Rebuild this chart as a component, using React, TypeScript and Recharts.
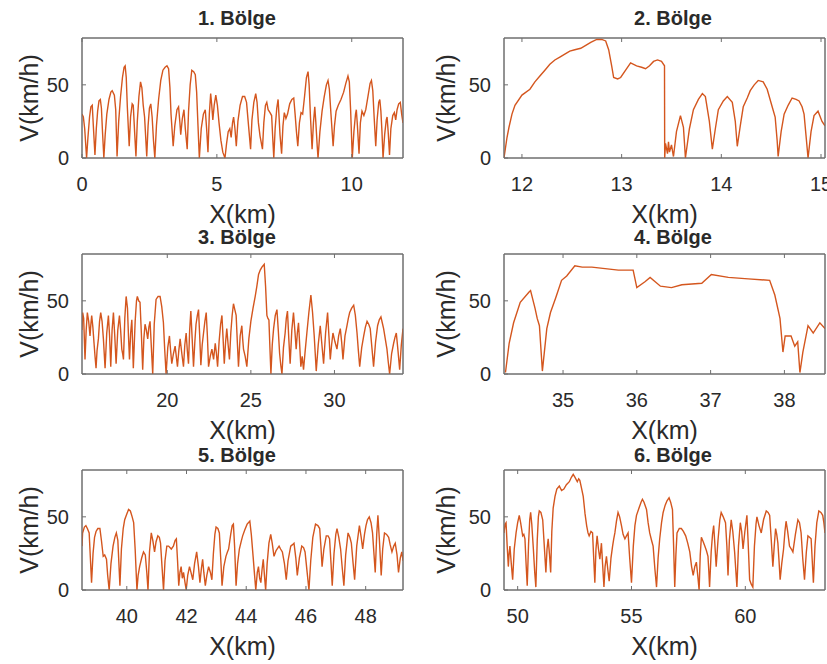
import React from 'react';
import { LineChart, Line, XAxis, YAxis, ReferenceArea } from 'recharts';

// speed profiles per region: [X (km), V (km/h)]
const bolge1: number[][] = [
    [0, 30], [0.05, 28], [0.1, 20], [0.17, 0], [0.22, 14], [0.28, 28], [0.33, 35], [0.38, 36], [0.42, 22], [0.48, 2],
    [0.53, 20], [0.58, 32], [0.63, 39], [0.68, 40], [0.72, 34], [0.76, 18], [0.81, 0], [0.86, 16], [0.92, 30], [1.0, 40],
    [1.07, 45], [1.12, 46], [1.2, 43], [1.25, 33], [1.3, 1], [1.36, 25], [1.43, 42], [1.5, 55], [1.56, 62], [1.6, 63],
    [1.64, 55], [1.68, 35], [1.75, 8], [1.8, 28], [1.86, 37], [1.9, 36], [1.95, 18], [2.0, 1], [2.05, 25], [2.11, 42],
    [2.17, 52], [2.22, 48], [2.27, 36], [2.32, 28], [2.4, 1], [2.45, 22], [2.5, 34], [2.55, 37], [2.6, 28], [2.65, 12],
    [2.7, 0], [2.76, 22], [2.84, 40], [2.92, 53], [3.0, 60], [3.08, 62], [3.15, 63], [3.21, 61], [3.26, 48], [3.3, 30],
    [3.38, 8], [3.44, 22], [3.52, 33], [3.58, 35], [3.63, 24], [3.66, 16], [3.72, 27], [3.78, 33], [3.83, 20], [3.9, 6],
    [3.95, 32], [4.01, 50], [4.07, 60], [4.14, 59], [4.2, 57], [4.25, 45], [4.3, 22], [4.35, 0], [4.42, 20], [4.5, 30],
    [4.57, 33], [4.62, 20], [4.67, 4], [4.72, 30], [4.77, 44], [4.81, 36], [4.85, 26], [4.9, 36], [4.96, 43], [5.02, 36],
    [5.08, 24], [5.15, 12], [5.22, 4], [5.3, 0], [5.36, 10], [5.42, 18], [5.48, 20], [5.53, 14], [5.58, 24], [5.62, 28],
    [5.67, 20], [5.72, 8], [5.78, 25], [5.86, 36], [5.95, 42], [6.03, 42], [6.1, 38], [6.16, 25], [6.25, 6], [6.3, 26],
    [6.37, 38], [6.44, 44], [6.49, 38], [6.54, 24], [6.6, 15], [6.69, 6], [6.74, 24], [6.8, 36], [6.85, 38], [6.9, 33],
    [6.97, 31], [7.03, 29], [7.07, 14], [7.11, 0], [7.16, 20], [7.22, 34], [7.27, 40], [7.3, 30], [7.34, 16], [7.4, 3],
    [7.45, 22], [7.5, 31], [7.56, 27], [7.62, 30], [7.7, 37], [7.78, 40], [7.85, 41], [7.9, 30], [7.95, 18], [8.0, 8],
    [8.06, 24], [8.12, 31], [8.18, 30], [8.25, 42], [8.32, 55], [8.38, 59], [8.42, 50], [8.47, 28], [8.53, 6], [8.58, 24],
    [8.63, 35], [8.67, 24], [8.72, 8], [8.75, 0], [8.82, 18], [8.9, 32], [8.98, 42], [9.06, 50], [9.12, 53], [9.17, 47],
    [9.23, 30], [9.31, 8], [9.36, 22], [9.42, 32], [9.5, 36], [9.6, 40], [9.7, 45], [9.78, 51], [9.86, 56], [9.91, 52],
    [9.96, 32], [10.02, 0], [10.08, 18], [10.14, 30], [10.17, 33], [10.21, 22], [10.27, 3], [10.32, 24], [10.38, 32], [10.45, 29],
    [10.52, 33], [10.6, 42], [10.68, 51], [10.73, 53], [10.78, 46], [10.83, 28], [10.89, 8], [10.94, 26], [11.0, 38], [11.04, 40],
    [11.08, 32], [11.12, 18], [11.16, 0], [11.22, 16], [11.28, 26], [11.31, 28], [11.35, 18], [11.4, 2], [11.45, 20], [11.52, 29],
    [11.58, 31], [11.63, 26], [11.68, 33], [11.74, 37], [11.8, 38], [11.85, 30], [11.9, 24],
];

const bolge2: number[][] = [
    [11.82, 0], [11.85, 14], [11.87, 21], [11.9, 30], [11.93, 36], [12.0, 43], [12.08, 47], [12.13, 52], [12.18, 56], [12.23, 60],
    [12.28, 64], [12.33, 67], [12.38, 69], [12.43, 71], [12.48, 73], [12.53, 74], [12.59, 75], [12.64, 77], [12.69, 79], [12.75, 81],
    [12.8, 81], [12.84, 80], [12.87, 74], [12.9, 63], [12.92, 55], [12.96, 54], [12.99, 55], [13.04, 60], [13.09, 65], [13.15, 63],
    [13.2, 62], [13.24, 61], [13.28, 63], [13.32, 66], [13.36, 67], [13.4, 66], [13.43, 63], [13.432, 0], [13.44, 10], [13.46, 3],
    [13.47, 11], [13.48, 4], [13.5, 9], [13.52, 1], [13.55, 18], [13.59, 29], [13.62, 21], [13.64, 0], [13.68, 20], [13.72, 33],
    [13.77, 40], [13.81, 44], [13.84, 42], [13.88, 25], [13.91, 6], [13.94, 20], [13.97, 33], [14.02, 39], [14.06, 42], [14.11, 38],
    [14.14, 25], [14.16, 8], [14.19, 22], [14.22, 35], [14.26, 41], [14.29, 46], [14.33, 50], [14.37, 53], [14.42, 52], [14.46, 47],
    [14.51, 35], [14.54, 28], [14.56, 12], [14.57, 1], [14.6, 18], [14.63, 30], [14.67, 36], [14.71, 41], [14.75, 40], [14.78, 39],
    [14.81, 35], [14.83, 30], [14.85, 15], [14.87, 0], [14.9, 18], [14.93, 29], [14.97, 32], [15.01, 25], [15.04, 22],
];

const bolge3: number[][] = [
    [14.9, 30], [14.94, 42], [15.0, 38], [15.08, 10], [15.15, 30], [15.22, 42], [15.3, 36], [15.38, 26], [15.43, 34], [15.48, 40],
    [15.55, 32], [15.62, 21], [15.68, 12], [15.74, 4], [15.8, 16], [15.88, 24], [15.95, 36], [16.02, 42], [16.1, 36], [16.18, 24],
    [16.23, 14], [16.28, 4], [16.38, 28], [16.48, 40], [16.55, 26], [16.62, 5], [16.7, 30], [16.78, 42], [16.86, 26], [16.94, 7],
    [17.04, 30], [17.14, 40], [17.21, 30], [17.28, 17], [17.33, 14], [17.38, 10], [17.46, 38], [17.54, 53], [17.62, 45], [17.68, 26],
    [17.74, 10], [17.81, 28], [17.88, 37], [17.93, 20], [17.97, 4], [18.08, 36], [18.16, 50], [18.21, 53], [18.29, 50], [18.37, 49],
    [18.45, 28], [18.53, 3], [18.6, 24], [18.67, 34], [18.75, 30], [18.83, 24], [18.9, 32], [18.97, 36], [19.05, 18], [19.13, 0],
    [19.22, 34], [19.33, 51], [19.45, 53], [19.57, 53], [19.67, 46], [19.77, 35], [19.85, 16], [19.93, 0], [20.03, 18], [20.13, 26],
    [20.2, 16], [20.27, 7], [20.37, 14], [20.47, 19], [20.54, 12], [20.61, 5], [20.69, 16], [20.77, 24], [20.87, 14], [20.97, 5],
    [21.05, 20], [21.13, 28], [21.2, 16], [21.27, 7], [21.34, 30], [21.41, 43], [21.49, 24], [21.57, 5], [21.65, 22], [21.72, 34],
    [21.8, 40], [21.87, 44], [21.94, 26], [22.01, 6], [22.09, 20], [22.17, 28], [22.25, 36], [22.33, 42], [22.4, 26], [22.47, 5],
    [22.57, 12], [22.67, 17], [22.77, 10], [22.87, 21], [22.94, 14], [23.01, 5], [23.1, 22], [23.19, 34], [23.27, 40], [23.34, 24],
    [23.41, 7], [23.49, 22], [23.56, 31], [23.64, 20], [23.72, 10], [23.8, 28], [23.88, 40], [23.96, 48], [24.04, 44], [24.12, 40],
    [24.19, 22], [24.26, 5], [24.36, 26], [24.46, 33], [24.51, 24], [24.56, 17], [24.66, 12], [24.76, 5], [24.88, 24], [25.0, 36],
    [25.13, 45], [25.26, 53], [25.36, 60], [25.46, 68], [25.56, 71], [25.66, 73], [25.73, 74], [25.8, 75], [25.88, 60], [25.96, 40],
    [26.02, 38], [26.08, 37], [26.14, 18], [26.2, 0], [26.28, 20], [26.36, 31], [26.46, 40], [26.56, 44], [26.64, 30], [26.72, 14],
    [26.79, 6], [26.86, 0], [26.95, 18], [27.05, 28], [27.12, 38], [27.19, 43], [27.27, 24], [27.35, 7], [27.45, 30], [27.55, 42],
    [27.63, 30], [27.71, 17], [27.78, 28], [27.85, 35], [27.92, 20], [27.99, 5], [28.07, 12], [28.15, 3], [28.25, 16], [28.35, 28],
    [28.47, 42], [28.59, 54], [28.69, 42], [28.79, 26], [28.85, 14], [28.91, 2], [29.03, 20], [29.15, 33], [29.25, 20], [29.35, 7],
    [29.47, 28], [29.59, 42], [29.67, 26], [29.75, 10], [29.83, 20], [29.91, 28], [30.03, 22], [30.15, 17], [30.25, 26], [30.35, 31],
    [30.43, 22], [30.51, 10], [30.63, 26], [30.75, 33], [30.83, 38], [30.91, 42], [31.03, 45], [31.15, 47], [31.25, 40], [31.35, 28],
    [31.43, 16], [31.51, 5], [31.63, 18], [31.75, 26], [31.85, 32], [31.95, 36], [32.05, 34], [32.14, 31], [32.24, 18], [32.34, 5],
    [32.46, 22], [32.58, 33], [32.68, 37], [32.78, 39], [32.86, 35], [32.94, 31], [33.04, 24], [33.14, 17], [33.22, 8], [33.3, 0],
    [33.42, 14], [33.54, 21], [33.62, 25], [33.7, 28], [33.8, 16], [33.9, 3], [34.0, 20], [34.1, 31],
];

const bolge4: number[][] = [
    [34.22, 1], [34.27, 21], [34.33, 35], [34.42, 49], [34.54, 56], [34.56, 57], [34.62, 45], [34.65, 38], [34.68, 33], [34.72, 2],
    [34.78, 31], [34.83, 42], [34.9, 52], [34.98, 64], [35.05, 67], [35.16, 74], [35.26, 73], [35.39, 73], [35.57, 72], [35.75, 71],
    [35.95, 71], [36.0, 59], [36.11, 63], [36.18, 66], [36.32, 60], [36.47, 59], [36.61, 61], [36.88, 62], [37.01, 68], [37.24, 66],
    [37.51, 65], [37.8, 64], [37.87, 54], [37.94, 38], [37.98, 15], [38.01, 26], [38.09, 26], [38.14, 19], [38.18, 22], [38.21, 1],
    [38.25, 15], [38.32, 33], [38.39, 28], [38.48, 35], [38.55, 31],
];

const bolge5: number[][] = [
    [38.5, 30], [38.52, 39], [38.58, 43], [38.63, 44], [38.68, 42], [38.74, 39], [38.78, 22], [38.82, 5], [38.87, 25], [38.92, 36],
    [38.97, 40], [39.03, 42], [39.1, 42], [39.15, 34], [39.21, 23], [39.26, 24], [39.32, 21], [39.36, 10], [39.41, 0], [39.47, 18],
    [39.54, 30], [39.6, 36], [39.65, 39], [39.7, 34], [39.77, 3], [39.82, 28], [39.88, 42], [39.93, 48], [40.0, 52], [40.06, 55],
    [40.12, 54], [40.18, 50], [40.23, 46], [40.28, 28], [40.34, 0], [40.38, 10], [40.43, 16], [40.5, 22], [40.56, 26], [40.62, 24],
    [40.67, 12], [40.71, 0], [40.76, 26], [40.82, 39], [40.87, 34], [40.93, 26], [40.98, 33], [41.04, 37], [41.09, 36], [41.13, 32],
    [41.18, 16], [41.23, 0], [41.28, 20], [41.34, 30], [41.4, 30], [41.49, 28], [41.56, 30], [41.62, 34], [41.66, 35], [41.7, 20],
    [41.74, 3], [41.78, 12], [41.82, 16], [41.86, 8], [41.9, 12], [41.95, 5], [41.99, 0], [42.04, 10], [42.1, 16], [42.15, 12],
    [42.21, 7], [42.27, 18], [42.34, 26], [42.4, 16], [42.45, 5], [42.5, 15], [42.54, 21], [42.58, 12], [42.63, 3], [42.68, 10],
    [42.74, 16], [42.8, 12], [42.85, 7], [42.9, 25], [42.95, 38], [42.99, 43], [43.05, 42], [43.1, 39], [43.15, 20], [43.19, 3],
    [43.25, 16], [43.32, 23], [43.37, 26], [43.41, 28], [43.48, 38], [43.53, 44], [43.57, 45], [43.61, 30], [43.66, 3], [43.71, 18],
    [43.77, 28], [43.83, 33], [43.88, 37], [43.95, 41], [44.03, 45], [44.12, 47], [44.17, 38], [44.23, 23], [44.28, 10], [44.32, 0],
    [44.37, 12], [44.41, 16], [44.45, 8], [44.49, 5], [44.53, 14], [44.57, 21], [44.61, 10], [44.65, 0], [44.7, 18], [44.76, 32],
    [44.82, 38], [44.87, 32], [44.93, 23], [45.0, 27], [45.1, 30], [45.15, 28], [45.21, 26], [45.28, 18], [45.34, 7], [45.4, 20],
    [45.49, 30], [45.55, 31], [45.6, 32], [45.66, 22], [45.71, 10], [45.78, 22], [45.86, 30], [45.92, 29], [45.97, 26], [46.04, 12],
    [46.1, 0], [46.16, 20], [46.23, 36], [46.32, 45], [46.4, 44], [46.46, 42], [46.5, 30], [46.54, 16], [46.6, 28], [46.68, 37],
    [46.74, 37], [46.79, 35], [46.84, 18], [46.88, 3], [46.94, 25], [47.0, 38], [47.04, 42], [47.1, 36], [47.16, 28], [47.22, 14],
    [47.27, 3], [47.33, 24], [47.41, 39], [47.47, 36], [47.52, 32], [47.58, 18], [47.63, 7], [47.7, 30], [47.79, 44], [47.85, 36],
    [47.9, 28], [47.96, 38], [48.01, 44], [48.06, 48], [48.12, 50], [48.18, 46], [48.23, 39], [48.28, 24], [48.32, 12], [48.37, 38],
    [48.41, 51], [48.46, 34], [48.52, 10], [48.57, 28], [48.63, 39], [48.7, 38], [48.77, 36], [48.82, 31], [48.88, 26], [48.94, 30],
    [48.99, 32], [49.05, 24], [49.1, 12], [49.16, 22], [49.21, 26], [49.25, 20],
];

const bolge6: number[][] = [
    [49.4, 39], [49.45, 45], [49.49, 46], [49.54, 30], [49.59, 16], [49.62, 24], [49.66, 30], [49.72, 18], [49.78, 7], [49.85, 28],
    [49.93, 39], [50.0, 46], [50.07, 51], [50.13, 46], [50.22, 37], [50.27, 38], [50.32, 35], [50.37, 18], [50.42, 3], [50.48, 32],
    [50.53, 48], [50.57, 53], [50.62, 45], [50.69, 28], [50.75, 12], [50.8, 2], [50.86, 34], [50.91, 50], [50.95, 54], [51.02, 53],
    [51.1, 48], [51.17, 30], [51.24, 12], [51.29, 28], [51.34, 35], [51.4, 24], [51.45, 12], [51.5, 40], [51.56, 56], [51.64, 64],
    [51.72, 69], [51.83, 71], [51.93, 68], [52.03, 69], [52.14, 72], [52.27, 74], [52.36, 77], [52.44, 79], [52.52, 77], [52.62, 74],
    [52.68, 76], [52.73, 75], [52.8, 70], [52.88, 64], [52.96, 52], [53.03, 44], [53.09, 39], [53.14, 37], [53.22, 40], [53.29, 39],
    [53.34, 22], [53.39, 5], [53.44, 28], [53.49, 37], [53.55, 28], [53.61, 21], [53.68, 32], [53.73, 18], [53.79, 2], [53.84, 16],
    [53.9, 23], [53.96, 14], [54.02, 6], [54.1, 22], [54.17, 30], [54.22, 35], [54.27, 39], [54.34, 47], [54.41, 53], [54.48, 50],
    [54.56, 44], [54.63, 38], [54.71, 35], [54.78, 37], [54.85, 39], [54.92, 22], [55.0, 5], [55.08, 30], [55.15, 44], [55.22, 51],
    [55.33, 56], [55.42, 60], [55.48, 62], [55.55, 60], [55.66, 55], [55.73, 46], [55.8, 39], [55.88, 34], [55.95, 30], [56.03, 14],
    [56.1, 2], [56.17, 22], [56.24, 35], [56.32, 46], [56.39, 53], [56.48, 58], [56.56, 61], [56.65, 63], [56.72, 60], [56.8, 55],
    [56.85, 30], [56.9, 2], [56.95, 24], [57.0, 39], [57.1, 42], [57.19, 42], [57.28, 40], [57.38, 37], [57.47, 32], [57.56, 26],
    [57.64, 16], [57.71, 10], [57.78, 16], [57.85, 19], [57.91, 10], [57.97, 0], [58.02, 24], [58.07, 36], [58.15, 33], [58.22, 30],
    [58.29, 27], [58.36, 23], [58.4, 12], [58.43, 2], [58.5, 26], [58.56, 38], [58.61, 44], [58.66, 32], [58.72, 16], [58.8, 34],
    [58.88, 48], [58.94, 53], [59.03, 50], [59.13, 46], [59.19, 30], [59.24, 10], [59.3, 34], [59.38, 48], [59.45, 40], [59.53, 26],
    [59.58, 14], [59.63, 2], [59.7, 30], [59.78, 46], [59.84, 40], [59.9, 28], [59.98, 40], [60.07, 51], [60.12, 34], [60.19, 7],
    [60.26, 4], [60.33, 2], [60.4, 30], [60.47, 45], [60.51, 50], [60.6, 44], [60.7, 39], [60.8, 48], [60.92, 54], [61.0, 53],
    [61.07, 51], [61.14, 34], [61.21, 16], [61.27, 30], [61.33, 42], [61.38, 38], [61.43, 32], [61.48, 20], [61.53, 7], [61.6, 18],
    [61.68, 28], [61.74, 40], [61.79, 47], [61.86, 40], [61.94, 30], [62.02, 28], [62.09, 26], [62.2, 38], [62.31, 48], [62.38, 46],
    [62.45, 39], [62.52, 22], [62.6, 7], [62.68, 26], [62.75, 37], [62.82, 36], [62.89, 35], [62.94, 20], [62.99, 5], [63.06, 30],
    [63.14, 46], [63.23, 54], [63.32, 53], [63.4, 51], [63.45, 46], [63.5, 39],
];

const titles = ['1. Bölge', '2. Bölge', '3. Bölge', '4. Bölge', '5. Bölge', '6. Bölge'];
const xDomains = [[0, 11.9], [11.82, 15.04], [14.9, 34.1], [34.2, 38.55], [38.5, 49.25], [49.4, 63.5]];
const xTicks = [[0, 5, 10], [12, 13, 14, 15], [20, 25, 30], [35, 36, 37, 38], [40, 42, 44, 46, 48], [50, 55, 60]];
const yDomain = [0, 82];
const yTicks = [0, 50];
const series = [bolge1, bolge2, bolge3, bolge4, bolge5, bolge6];

const FONT = '"Liberation Sans", Arial, sans-serif';
const AXIS = '#6e6e6e';
const TEXT = '#2a2a2a';
const LINE = '#D4561E';

const COL_X = [0, 414];
const ROW_Y = [0, 216, 432];
const TITLE_TOP = [8, 11, 13];
const PLOT_LEFT = [82, 90];
const PLOT_RIGHT = [403, 411];
const TITLE_CX = [237, 259];
const CHART_W = 413;
const CHART_H = 232;

function Panel({ idx }: { idx: number }) {
    const col = idx % 2;
    const row = Math.floor(idx / 2);
    const data = series[idx].map(([x, v]) => ({ x, v }));
    const tickStyle = { fill: TEXT, fontSize: 20, fontFamily: FONT };
    const [x0, x1] = xDomains[idx];

    return (
        <div style={{ position: 'absolute', left: COL_X[col], top: ROW_Y[row], width: CHART_W, height: CHART_H }}>
            <div style={{
                position: 'absolute', left: TITLE_CX[col] - 100, top: TITLE_TOP[row], width: 200, textAlign: 'center',
                fontFamily: FONT, fontWeight: 'bold', fontSize: 20, lineHeight: '20px', color: TEXT,
            }}>
                {titles[idx]}
            </div>
            <LineChart
                width={CHART_W}
                height={CHART_H}
                data={data}
                margin={{ top: 37, right: CHART_W - PLOT_RIGHT[col] - 1, left: 0, bottom: 2 }}
            >
                <XAxis
                    xAxisId="b"
                    dataKey="x"
                    type="number"
                    domain={xDomains[idx]}
                    ticks={xTicks[idx]}
                    interval={0}
                    allowDataOverflow
                    height={72}
                    tickSize={-4}
                    tickMargin={23}
                    stroke={AXIS}
                    tick={tickStyle}
                    label={{ value: 'X(km)', position: 'insideBottom', offset: 7, fill: TEXT, fontSize: 25, fontFamily: FONT }}
                />
                <XAxis
                    xAxisId="t"
                    orientation="top"
                    dataKey="x"
                    type="number"
                    domain={xDomains[idx]}
                    ticks={xTicks[idx]}
                    interval={0}
                    allowDataOverflow
                    height={1}
                    tickSize={-4}
                    stroke={AXIS}
                    tickFormatter={() => ''}
                />
                <YAxis
                    yAxisId="l"
                    type="number"
                    domain={yDomain}
                    ticks={yTicks}
                    interval={0}
                    width={PLOT_LEFT[col]}
                    tickSize={-4}
                    tickMargin={17}
                    stroke={AXIS}
                    tick={tickStyle}
                    label={{
                        value: 'V(km/h)', angle: -90, position: 'insideLeft', offset: col === 0 ? 29 : 32,
                        fill: TEXT, fontSize: 25, fontFamily: FONT, style: { textAnchor: 'middle' },
                    }}
                />
                <YAxis
                    yAxisId="r"
                    orientation="right"
                    type="number"
                    domain={yDomain}
                    ticks={yTicks}
                    interval={0}
                    width={1}
                    tickSize={-4}
                    stroke={AXIS}
                    tickFormatter={() => ''}
                />
                <ReferenceArea
                    xAxisId="b"
                    yAxisId="l"
                    x1={x0}
                    x2={x1}
                    y1={yDomain[0]}
                    y2={yDomain[1]}
                    fill="none"
                    fillOpacity={0}
                    stroke={AXIS}
                    strokeWidth={1}
                    ifOverflow="visible"
                />
                <Line
                    xAxisId="b"
                    yAxisId="l"
                    type="linear"
                    dataKey="v"
                    stroke={LINE}
                    strokeWidth={1.4}
                    dot={false}
                    isAnimationActive={false}
                />
            </LineChart>
        </div>
    );
}

export default function App() {
    return (
        <div style={{ position: 'absolute', left: 0, top: 0, width: 827, height: 664, background: '#fff', overflow: 'hidden' }}>
            {[0, 1, 2, 3, 4, 5].map(i => <Panel key={i} idx={i} />)}
        </div>
    );
}
